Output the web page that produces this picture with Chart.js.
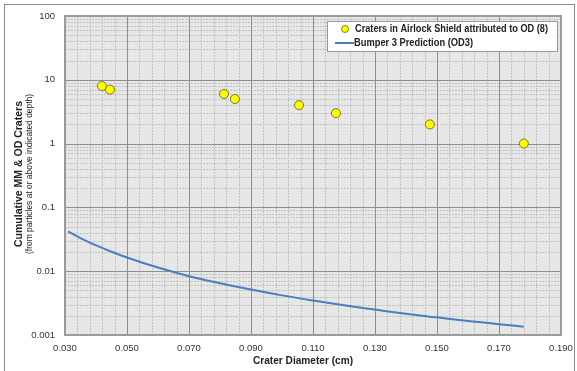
<!DOCTYPE html>
<html>
<head>
<meta charset="utf-8">
<script src="https://cdn.jsdelivr.net/npm/chart.js@4/dist/chart.umd.min.js"></script>
<style>
  body { margin: 0; background: #fff; }
  #wrap { position: absolute; left: 0; top: 0; width: 577px; height: 371px; }
  #frame { position: absolute; left: 4px; top: 4px; width: 571px; height: 380px;
           border: 1px solid #8a8a8a; box-sizing: border-box; }
  canvas { position: absolute; left: 0; top: 0; }
</style>
</head>
<body>
<div id="wrap">
  <div id="frame"></div>
  <canvas id="craterChart" width="577" height="371"></canvas>
</div>
<script>
// measured craters (diameter cm, cumulative count)
let craterDiameters = [0.0419, 0.0445, 0.0813, 0.0848, 0.1055, 0.1174, 0.1477, 0.1780];
let craterCounts = [8, 7, 6, 5, 4, 3, 2, 1];

// Bumper 3 prediction curve
let predDiameters = [0.031, 0.035, 0.040, 0.045, 0.050, 0.060, 0.070, 0.080, 0.090, 0.100,
                     0.110, 0.120, 0.130, 0.140, 0.150, 0.160, 0.170, 0.178];
let predCounts = [0.0420, 0.0331, 0.0254, 0.0202, 0.0164, 0.0114, 0.00835, 0.00648, 0.00515, 0.00418,
                  0.00347, 0.00292, 0.00250, 0.00215, 0.00189, 0.00166, 0.00148, 0.00135];

let yTicks = [0.001, 0.01, 0.1, 1, 10, 100];
let xTicks = [0.030, 0.050, 0.070, 0.090, 0.110, 0.130, 0.150, 0.170, 0.190];

let legendLabels = ["Craters in Airlock Shield attributed to OD (8)", "Bumper 3 Prediction (OD3)"];

let fam = "'Liberation Sans', Arial, sans-serif";
let tickFont = { family: fam, size: 9.5 };
let boldFont = "bold 11px " + fam;

// background + grid
const gridPlugin = {
    id: "gridPlugin",
    beforeDraw(chart) {
        let a = chart.chartArea;
        chart.ctx.save();
        chart.ctx.fillStyle = "#e7e7e7";
        chart.ctx.fillRect(a.left, a.top, a.right - a.left, a.bottom - a.top);
        chart.ctx.restore();
    },
    beforeDatasetsDraw(chart) {
        let ctx = chart.ctx;
        let a = chart.chartArea;
        let xs = chart.scales.x, ys = chart.scales.y;
        ctx.save();
        ctx.strokeStyle = "#c2c2c2";
        ctx.lineWidth = 1;
        ctx.setLineDash([2, 1]);
        for (let v = 0.030; v < 0.1901; v += 0.004) {
            let px = Math.round(xs.getPixelForValue(v)) + 0.5;
            ctx.beginPath(); ctx.moveTo(px, a.top); ctx.lineTo(px, a.bottom); ctx.stroke();
        }
        for (let d = 0; d < yTicks.length - 1; d++) {
            for (let m = 2; m <= 9; m++) {
                let py = Math.round(ys.getPixelForValue(yTicks[d] * m)) + 0.5;
                ctx.beginPath(); ctx.moveTo(a.left, py); ctx.lineTo(a.right, py); ctx.stroke();
            }
        }
        ctx.setLineDash([]);
        ctx.strokeStyle = "#8e8e8e";
        xTicks.forEach(v => {
            let px = Math.round(xs.getPixelForValue(v)) + 0.5;
            ctx.beginPath(); ctx.moveTo(px, a.top); ctx.lineTo(px, a.bottom); ctx.stroke();
        });
        yTicks.forEach(v => {
            let py = Math.round(ys.getPixelForValue(v)) + 0.5;
            ctx.beginPath(); ctx.moveTo(a.left, py); ctx.lineTo(a.right, py); ctx.stroke();
        });
        ctx.strokeStyle = "#9a9a9a";
        ctx.lineWidth = 2;
        ctx.strokeRect(a.left, a.top, a.right - a.left, a.bottom - a.top);
        ctx.restore();
    }
};

// axis titles and legend box
const labelPlugin = {
    id: "labelPlugin",
    afterDraw(chart) {
        let ctx = chart.ctx;
        ctx.save();
        ctx.fillStyle = "#222";
        ctx.textAlign = "center";
        ctx.textBaseline = "middle";
        ctx.font = boldFont;
        ctx.fillText("Crater Diameter (cm)", 303, 361, 100);

        ctx.translate(19, 174);
        ctx.rotate(-Math.PI / 2);
        ctx.fillText("Cumulative MM & OD Craters", 0, 0, 146);
        ctx.font = "9px " + fam;
        ctx.fillText("(from particles at or above indicated depth)", 0, 11, 160);
        ctx.restore();

        // legend
        ctx.save();
        let lx = 327, ly = 21, lw = 230, lh = 30;
        ctx.fillStyle = "#fff";
        ctx.fillRect(lx, ly, lw, lh);
        ctx.strokeStyle = "#9a9a9a";
        ctx.lineWidth = 1;
        ctx.strokeRect(lx + 0.5, ly + 0.5, lw, lh);
        ctx.beginPath();
        ctx.arc(345, 29, 3.5, 0, Math.PI * 2);
        ctx.fillStyle = "#ffff00";
        ctx.fill();
        ctx.strokeStyle = "#8a8a00";
        ctx.stroke();
        ctx.strokeStyle = "#4a7ebf";
        ctx.lineWidth = 2;
        ctx.beginPath(); ctx.moveTo(335, 43); ctx.lineTo(354, 43); ctx.stroke();
        ctx.fillStyle = "#222";
        ctx.font = boldFont;
        ctx.textAlign = "left";
        ctx.textBaseline = "middle";
        ctx.fillText(legendLabels[0], 355, 29, 193);
        ctx.fillText(legendLabels[1], 354, 43, 119);
        ctx.restore();
    }
};

let ctx = document.getElementById("craterChart").getContext("2d");
new Chart(ctx, {
    type: "scatter",
    data: {
        datasets: [{
            label: legendLabels[0],
            data: craterDiameters.map((d, i) => ({ x: d, y: craterCounts[i] })),
            backgroundColor: "#ffff00",
            borderColor: "#7a7a10",
            borderWidth: 1,
            pointRadius: 4.5
        }, {
            label: legendLabels[1],
            data: predDiameters.map((d, i) => ({ x: d, y: predCounts[i] })),
            showLine: true,
            borderColor: "#4a7ebf",
            borderWidth: 2,
            pointRadius: 0,
            cubicInterpolationMode: "monotone"
        }]
    },
    options: {
        responsive: false,
        animation: false,
        layout: { padding: { top: 16, right: 16, left: 0, bottom: 0 } },
        plugins: { legend: { display: false }, tooltip: { enabled: false } },
        scales: {
            x: {
                type: "linear",
                min: 0.030,
                max: 0.190,
                afterBuildTicks: s => { s.ticks = xTicks.map(v => ({ value: v })); },
                afterFit: s => { s.height = 36; s.paddingLeft = 0; s.paddingRight = 0; },
                grid: { display: false, drawTicks: false },
                border: { display: false },
                ticks: {
                    font: tickFont,
                    color: "#333",
                    padding: 8,
                    maxRotation: 0,
                    callback: v => v.toFixed(3)
                }
            },
            y: {
                type: "logarithmic",
                min: 0.001,
                max: 100,
                afterBuildTicks: s => { s.ticks = yTicks.map(v => ({ value: v })); },
                afterFit: s => { s.width = 65; s.paddingTop = 0; s.paddingBottom = 0; },
                grid: { display: false, drawTicks: false },
                border: { display: false },
                ticks: {
                    font: tickFont,
                    color: "#333",
                    padding: 10,
                    callback: v => String(v)
                }
            }
        }
    },
    plugins: [gridPlugin, labelPlugin]
});
</script>
</body>
</html>
